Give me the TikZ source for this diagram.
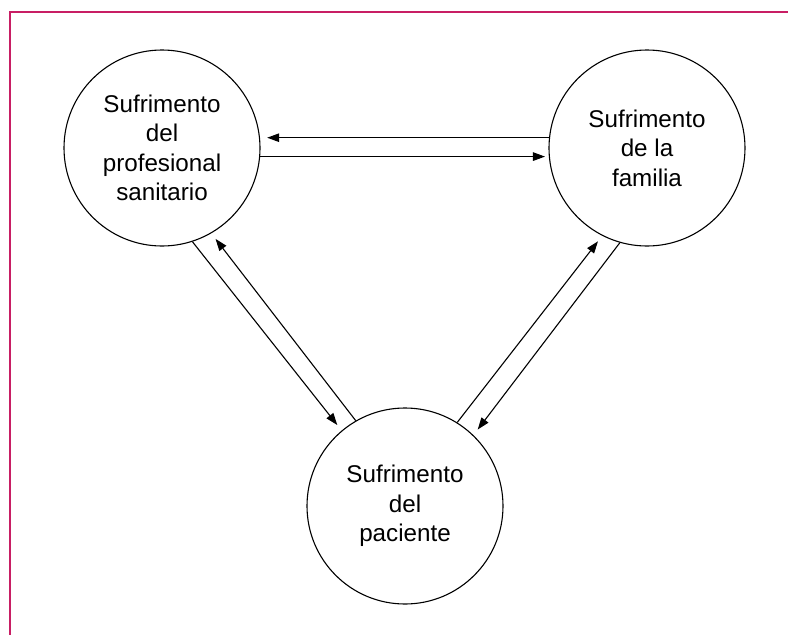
\documentclass[tikz,border=0pt]{standalone}
\usepackage{fontspec}
\setmainfont{Liberation Sans}
\usetikzlibrary{arrows.meta}
\definecolor{framecol}{RGB}{200,30,100}
\begin{document}
\begin{tikzpicture}[x=1pt,y=-1pt,
  bubble/.style={circle,draw=black,line width=1.1pt,minimum size=196pt,inner sep=0pt,align=center,
    font=\fontsize{24.2}{29.5}\selectfont},
  arr/.style={line width=1.1pt,-{Triangle[length=12pt,width=8.5pt]}}]
\useasboundingbox (0,0) rectangle (788,635);
\draw[framecol,line width=1.5pt] (10,635) -- (10,12) -- (788,12);
\node[bubble] (L) at (162,148) {Sufrimento\\del\\profesional\\sanitario};
\node[bubble] (R) at (647,148) {Sufrimento\\de la\\familia};
\node[bubble] (B) at (405,506) {Sufrimento\\del\\paciente};
% horizontal pair
\draw[arr,shorten >=7pt] (R.174.7) -- (L.5.3 |- R.174.7);
\draw[arr,shorten >=4pt] (L.-5.3) -- (R.-174.7 |- L.-5.3);
% left diagonal pair
\draw[arr,shorten >=7pt] (L.-72) -- (B.130.5);
\draw[arr,shorten >=7pt] (B.120.5) -- (L.-60.3);
% right diagonal pair
\draw[arr,shorten >=7pt] (B.58) -- (R.-117.5);
\draw[arr,shorten >=7pt] (R.-106.1) -- (B.46.3);
\end{tikzpicture}
\end{document}
